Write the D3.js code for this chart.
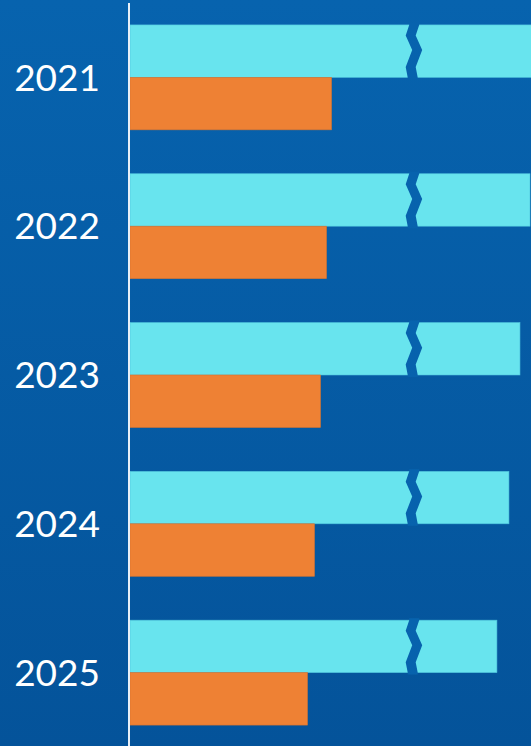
<!DOCTYPE html>
<html>
<head>
<meta charset="utf-8">
<script src="https://cdn.jsdelivr.net/npm/d3@7"></script>
<style>
  html, body { margin: 0; padding: 0; background: #0760ab; }
  svg { display: block; }
</style>
</head>
<body>
<svg id="chart"></svg>
<script>
const width = 531;
const height = 746;

// data (bar lengths as shown, cyan bars are drawn with an axis break)
const years = ['2021', '2022', '2023', '2024', '2025'];
const series = ['cyan', 'orange'];
const cyanValues = [405, 399, 389, 378, 366];
const orangeValues = [201, 196, 190, 184, 177];
const breakValue = 278;

const colors = { cyan: '#68e4ee', orange: '#ee8134' };

const svg = d3.select('#chart')
    .attr('width', width)
    .attr('height', height);

// background gradient
const defs = svg.append('defs');
const grad = defs.append('linearGradient')
    .attr('id', 'bg')
    .attr('gradientUnits', 'userSpaceOnUse')
    .attr('x1', 0).attr('y1', 0)
    .attr('x2', 0).attr('y2', height);
grad.append('stop').attr('offset', 0).attr('stop-color', '#0763ae');
grad.append('stop').attr('offset', 1).attr('stop-color', '#04539a');

svg.append('rect')
    .attr('width', width)
    .attr('height', height)
    .attr('fill', 'url(#bg)');

const x = d3.scaleLinear()
    .domain([0, 400])
    .range([130, 531]);

const y = d3.scaleBand()
    .domain(years)
    .range([2.6, 747.4])
    .paddingInner(0.295)
    .paddingOuter(0.15);

const ySub = d3.scaleBand()
    .domain(series)
    .range([0, y.bandwidth()]);

const rows = years.map((yr, i) => ({ year: yr, cyan: cyanValues[i], orange: orangeValues[i] }));

const groups = svg.selectAll('.row')
    .data(rows)
    .enter().append('g')
    .attr('class', 'row')
    .attr('transform', d => `translate(0,${y(d.year)})`);

groups.selectAll('rect')
    .data(d => series.map(s => ({ key: s, value: d[s] })))
    .enter().append('rect')
    .attr('x', x(0))
    .attr('y', d => ySub(d.key))
    .attr('width', d => x(d.value) - x(0))
    .attr('height', ySub.bandwidth())
    .attr('fill', d => colors[d.key])
    .attr('stroke', d => d.key === 'cyan' ? '#4fc3dc' : '#d8742f')
    .attr('stroke-width', 0.6);

// zigzag break across the cyan bars
const h = ySub.bandwidth();
const bx = x(breakValue);
const gapW = 10;
const zig = [[0.5, -2], [0.5, 0], [-3, h * 0.2], [3.5, h * 0.48], [-3, h * 0.8], [-1, h], [-1, h + 2]];
const breakPath = d3.line()(
    zig.map(p => [bx + p[0], p[1]])
        .concat(zig.slice().reverse().map(p => [bx + p[0] + gapW, p[1]]))
) + 'Z';

groups.append('path')
    .attr('d', breakPath)
    .attr('transform', d => `translate(0,${ySub('cyan')})`)
    .attr('fill', 'url(#bg)');

// year labels
groups.append('text')
    .attr('x', 100)
    .attr('y', ySub('orange'))
    .attr('dy', '0.36em')
    .attr('text-anchor', 'end')
    .attr('fill', '#ffffff')
    .style('font-family', 'Lato, "Open Sans", sans-serif')
    .style('font-size', '37px')
    .text(d => d.year);

// vertical axis line
svg.append('line')
    .attr('x1', 129).attr('x2', 129)
    .attr('y1', 3).attr('y2', height)
    .attr('stroke', '#e8f0f8')
    .attr('stroke-width', 2);
</script>
</body>
</html>
